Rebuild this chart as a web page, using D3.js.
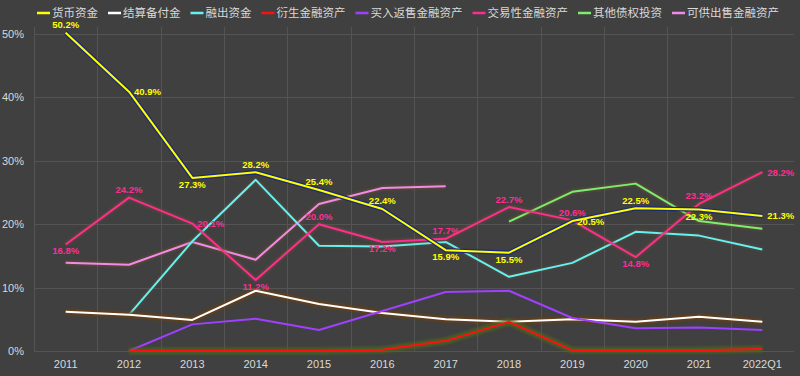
<!DOCTYPE html>
<html>
<head>
<meta charset="utf-8">
<script src="https://cdn.jsdelivr.net/npm/d3@7"></script>
<style>
  html, body { margin: 0; padding: 0; background: #404040; }
  svg { display: block; }
</style>
</head>
<body>
<svg id="chart"></svg>
<script>
// categories and series (share of total assets, %)
const years = ['2011', '2012', '2013', '2014', '2015', '2016', '2017', '2018', '2019', '2020', '2021', '2022Q1'];
const seriesNames = ['货币资金', '结算备付金', '融出资金', '衍生金融资产', '买入返售金融资产', '交易性金融资产', '其他债权投资', '可供出售金融资产'];

const cash        = [50.2, 40.9, 27.3, 28.2, 25.4, 22.4, 15.9, 15.5, 20.5, 22.5, 22.3, 21.3];
const settlement  = [6.2, 5.7, 4.9, 9.5, 7.4, 6.0, 5.0, 4.6, 5.0, 4.6, 5.4, 4.6];
const marginLoans = [null, 5.7, 17.3, 27.0, 16.6, 16.5, 17.2, 11.7, 13.9, 18.8, 18.2, 16.0];
const derivatives = [null, 0.0, 0.0, 0.0, 0.0, 0.2, 1.6, 4.6, 0.1, 0.1, 0.1, 0.3];
const reverseRepo = [null, 0.0, 4.2, 5.1, 3.3, 6.3, 9.3, 9.5, 5.2, 3.6, 3.7, 3.3];
const trading     = [16.8, 24.2, 20.1, 11.2, 20.0, 17.2, 17.7, 22.7, 20.6, 14.8, 23.2, 28.2];
const otherDebt   = [null, null, null, null, null, null, null, 20.4, 25.1, 26.4, 20.5, 19.3];
const availSale   = [13.9, 13.6, 17.2, 14.4, 23.2, 25.7, 26.0, null, null, null, null, null];

const yTicks = [0, 10, 20, 30, 40, 50];

// where the value labels sit for the two labelled series
const cashLabelPos  = ['top', 'right', 'bottom', 'top', 'top', 'top', 'bottom', 'bottom', 'right', 'top', 'bottom', 'right'];
const tradeLabelPos = ['bottom', 'top', 'right', 'bottom', 'top', 'bottom', 'top', 'top', 'top', 'bottom', 'top', 'right'];

const series = [
  { name: seriesNames[0], values: cash,        color: '#ffff00', glow: '#1b2a78', glowW: 4.5, glowO: 1,    labels: cashLabelPos },
  { name: seriesNames[1], values: settlement,  color: '#ffffff', glow: '#6b3d14', glowW: 6,   glowO: 0.8 },
  { name: seriesNames[2], values: marginLoans, color: '#66f0f0', glow: '#6b5a40', glowW: 4,   glowO: 0.35 },
  { name: seriesNames[3], values: derivatives, color: '#ff1010', glow: '#4c6a1a', glowW: 7,   glowO: 0.7 },
  { name: seriesNames[4], values: reverseRepo, color: '#a040ff', glow: '#404040', glowW: 0,   glowO: 0 },
  { name: seriesNames[5], values: trading,     color: '#ff2d91', glow: '#7a5030', glowW: 4.5, glowO: 0.45, labels: tradeLabelPos },
  { name: seriesNames[6], values: otherDebt,   color: '#7cee6e', glow: '#7a5a30', glowW: 4.5, glowO: 0.45 },
  { name: seriesNames[7], values: availSale,   color: '#f08ce8', glow: '#7a5030', glowW: 4.5, glowO: 0.5 }
];

const width = 800, height = 376;
const margin = { top: 27, right: 6, bottom: 25, left: 34 };

const svg = d3.select('#chart')
  .attr('width', width)
  .attr('height', height)
  .style('background', '#404040');

const x = d3.scaleBand()
  .domain(years)
  .range([margin.left, width - margin.right])
  .paddingInner(0)
  .paddingOuter(0);

const y = d3.scaleLinear()
  .domain([0, 50])
  .range([351, 34]);

const cx = d => x(d) + x.bandwidth() / 2;

// grid
const grid = svg.append('g').attr('class', 'grid');
grid.selectAll('line.h')
  .data(yTicks)
  .join('line')
  .attr('class', 'h')
  .attr('x1', margin.left).attr('x2', width - margin.right)
  .attr('y1', d => Math.round(y(d)) + 0.5).attr('y2', d => Math.round(y(d)) + 0.5)
  .attr('stroke', '#545454')
  .attr('stroke-width', 1);
grid.selectAll('line.v')
  .data(years.slice(1))
  .join('line')
  .attr('class', 'v')
  .attr('x1', d => Math.round(x(d)) + 0.5).attr('x2', d => Math.round(x(d)) + 0.5)
  .attr('y1', margin.top).attr('y2', y(0))
  .attr('stroke', '#545454')
  .attr('stroke-width', 1);
grid.append('line')
  .attr('x1', margin.left + 0.5).attr('x2', margin.left + 0.5)
  .attr('y1', margin.top).attr('y2', y(0))
  .attr('stroke', '#545454');

// axes
const yAxis = d3.axisLeft(y).tickValues(yTicks).tickFormat(d => d + '%').tickSize(0).tickPadding(10);
svg.append('g')
  .attr('transform', `translate(${margin.left},0)`)
  .call(yAxis)
  .call(g => g.select('.domain').remove())
  .selectAll('text')
  .attr('fill', '#d9d9d9')
  .attr('font-size', '11px')
  .attr('font-family', 'Liberation Sans, Arial, sans-serif');

const xAxis = d3.axisBottom(x).tickSize(0).tickPadding(9);
svg.append('g')
  .attr('transform', `translate(0,${y(0)})`)
  .call(xAxis)
  .call(g => g.select('.domain').remove())
  .selectAll('text')
  .attr('fill', '#d9d9d9')
  .attr('font-size', '11px')
  .attr('font-family', 'Liberation Sans, Arial, sans-serif');

// lines
const line = d3.line()
  .defined(d => d.v != null)
  .x(d => cx(d.year))
  .y(d => y(d.v));

const blur = svg.append('defs').append('filter')
  .attr('id', 'soft')
  .attr('x', '-10%').attr('y', '-50%')
  .attr('width', '120%').attr('height', '200%');
blur.append('feGaussianBlur').attr('stdDeviation', 1.2);

const drawOrder = [7, 6, 2, 1, 4, 3, 5, 0];
drawOrder.forEach(i => {
  const s = series[i];
  const pts = years.map((yr, j) => ({ year: yr, v: s.values[j] }));
  if (s.glowW > 0) {
    svg.append('path')
      .datum(pts)
      .attr('d', line)
      .attr('fill', 'none')
      .attr('stroke', s.glow)
      .attr('stroke-width', s.glowW)
      .attr('stroke-opacity', s.glowO)
      .attr('stroke-linejoin', 'round')
      .attr('filter', i === 0 ? null : 'url(#soft)');
  }
  svg.append('path')
    .datum(pts)
    .attr('d', line)
    .attr('fill', 'none')
    .attr('stroke', s.color)
    .attr('stroke-width', 2)
    .attr('stroke-linejoin', 'round');
});

// value labels
series.filter(s => s.labels).forEach(s => {
  years.forEach((yr, j) => {
    const v = s.values[j];
    if (v == null) return;
    const pos = s.labels[j];
    let tx = cx(yr), ty = y(v), anchor = 'middle';
    if (pos === 'top') ty -= 4.5;
    if (pos === 'bottom') ty += 10;
    if (pos === 'right') { tx += 5; ty += 3.5; anchor = 'start'; }
    svg.append('text')
      .attr('x', tx).attr('y', ty)
      .attr('text-anchor', anchor)
      .attr('fill', s.color)
      .attr('font-size', '9.5px')
      .attr('font-weight', 'bold')
      .attr('font-family', 'Liberation Sans, Arial, sans-serif')
      .text(v.toFixed(1) + '%');
  });
});

// legend
const legend = svg.append('g').attr('class', 'legend');
let lx = 37;
series.forEach(s => {
  legend.append('line')
    .attr('x1', lx).attr('x2', lx + 13)
    .attr('y1', 13).attr('y2', 13)
    .attr('stroke', s.color)
    .attr('stroke-width', 2.5);
  const t = legend.append('text')
    .attr('x', lx + 15).attr('y', 17)
    .attr('fill', '#d9d9d9')
    .attr('font-size', '11.5px')
    .attr('font-family', 'Noto Sans CJK SC, sans-serif')
    .text(s.name);
  lx += 15 + t.node().getComputedTextLength() + 10;
});
</script>
</body>
</html>
